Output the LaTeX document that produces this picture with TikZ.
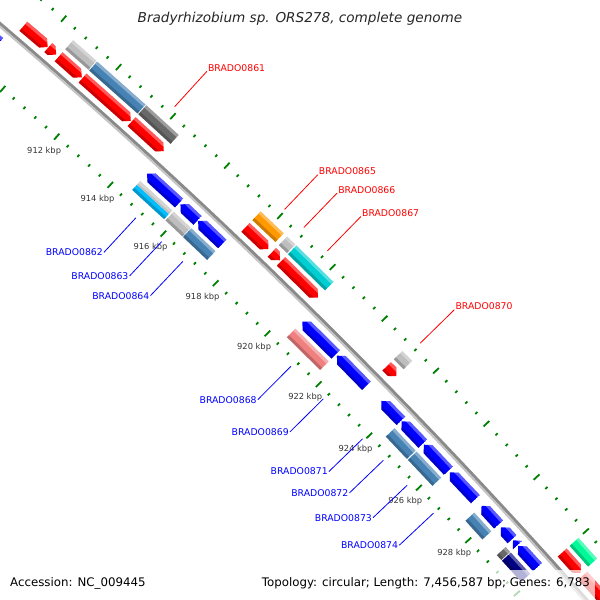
\documentclass[tikz,border=0pt]{standalone}
\usepackage{fontspec}
\setmainfont{DejaVu Sans}
\usetikzlibrary{calc,positioning}
\definecolor{tickgreen}{HTML}{008000}
\definecolor{fwdred}{HTML}{FF0000}
\definecolor{revblue}{HTML}{0000FF}
\definecolor{bbdark}{HTML}{8A8A8A}
\definecolor{bblight}{HTML}{C4C4C4}
\definecolor{cogsteel}{HTML}{4682B4}
\definecolor{cogsilver}{HTML}{BEBEBE}
\definecolor{cogdim}{HTML}{696969}
\definecolor{cogsky}{HTML}{00BFFF}
\definecolor{cogorange}{HTML}{FF9900}
\definecolor{cogturq}{HTML}{00CED1}
\definecolor{cogcoral}{HTML}{F08080}
\definecolor{cognavy}{HTML}{000080}
\definecolor{cogspring}{HTML}{00FA9A}
% point on the map: position in kbp, radius in px
\newcommand{\mappt}[2]{($(ctr)+({45.2-0.35*((#1)-921)}:#2pt)$)}
\newcommand{\mapband}[4]{\mappt{#1}{#3} -- \mappt{#1}{#4} -- \mappt{#2}{#4} -- \mappt{#2}{#3} -- cycle}
\newcommand{\mapbevel}[4]{%
  \pgfmathsetmacro\bvi{#3+3}\pgfmathsetmacro\bvo{#4-3}%
  \fill[white, opacity=.35] \mapband{#1}{#2}{\bvo}{#4};
  \fill[black, opacity=.2] \mapband{#1}{#2}{#3}{\bvi};}
% genes on the outer (clockwise) and inner strand
\newcommand{\fwdgene}[2]{%
  \pgfmathsetmacro\hd{#2-min(0.17,#2-#1)}%
  \begin{scope}
    \clip \mappt{#1}{5955} -- \mappt{#1}{5967} -- \mappt{\hd}{5967} -- \mappt{#2}{5961} -- \mappt{\hd}{5955} -- cycle;
    \fill[fwdred] \mapband{#1}{#2}{5954}{5968};
    \mapbevel{#1}{#2}{5955}{5967}
  \end{scope}}
\newcommand{\revgene}[2]{%
  \pgfmathsetmacro\hd{#1+min(0.17,#2-#1)}%
  \begin{scope}
    \clip \mappt{#2}{5927} -- \mappt{#2}{5939} -- \mappt{\hd}{5939} -- \mappt{#1}{5933} -- \mappt{\hd}{5927} -- cycle;
    \fill[revblue] \mapband{#1}{#2}{5926}{5940};
    \mapbevel{#1}{#2}{5927}{5939}
  \end{scope}}
\newcommand{\cogbox}[4]{%
  \pgfmathsetmacro\cgo{#3+12}%
  \fill[#4] \mapband{#1}{#2}{#3}{\cgo};
  \mapbevel{#1}{#2}{#3}{\cgo}}
% gene labels with radial leaders
\newcommand{\outlbl}[3]{%
  \path \mappt{(#2+#3)/2}{6001} coordinate (g#1);
  \path \mappt{(#2+#3)/2}{6049} node[outlab] (l#1) {BRADO#1};
  \draw[fwdred, leadline] (g#1) -- (l#1.base west);}
\newcommand{\inlbl}[3]{%
  \path \mappt{(#2+#3)/2}{5893} coordinate (g#1);
  \path \mappt{(#2+#3)/2}{5846} node[inlab] (l#1) {BRADO#1};
  \draw[revblue, leadline] (g#1) -- (l#1.east);}

\begin{document}
\begin{tikzpicture}[x=1pt, y=1pt,
  kbptick/.style={draw=tickgreen, line width=1.8pt},
  kbp/.style={font=\fontsize{8.3}{9}\selectfont, text=black!80, inner sep=0pt},
  outlab/.style={font=\fontsize{9.3}{11}\selectfont, text=fwdred, anchor=base west, inner sep=1pt},
  inlab/.style={font=\fontsize{9.3}{11}\selectfont, text=revblue, anchor=east, inner sep=1pt},
  leadline/.style={line width=.8pt},
  footbox/.style={font=\fontsize{11.8}{14}\selectfont, fill=white, fill opacity=.7, text opacity=1,
    inner xsep=5pt, inner ysep=0pt, text height=16.7pt, text depth=13.3pt}]
\useasboundingbox (0,0) rectangle (600,600);
\clip (0,0) rectangle (600,600);
\coordinate (ctr) at (-3864,-3945);

% tick rings
\foreach \i in {0,...,60} {
  \pgfmathsetmacro\k{908+0.4*\i}
  \pgfmathtruncatemacro\mj{mod(\i,5)}
  \ifnum\mj=0
    \draw[kbptick] \mappt{\k}{5896} -- \mappt{\k}{5904};
    \draw[kbptick] \mappt{\k}{5989} -- \mappt{\k}{5997};
  \else
    \draw[kbptick] \mappt{\k}{5898.5} -- \mappt{\k}{5901.5};
    \draw[kbptick] \mappt{\k}{5991.5} -- \mappt{\k}{5994.5};
  \fi}
\foreach \k in {912,914,...,928}
  \path \mappt{\k}{5881} node[kbp] (t\k) {\k\ kbp};

% backbone
\draw[line width=3pt, bbdark] \mappt{906}{5948} arc[start angle={45.2-0.35*(906-921)}, end angle={45.2-0.35*(934-921)}, radius=5948pt];
\draw[line width=2pt, bblight] \mappt{906}{5945.5} arc[start angle={45.2-0.35*(906-921)}, end angle={45.2-0.35*(934-921)}, radius=5945.5pt];

% forward strand
\fwdgene{909.30}{910.18}
\fwdgene{910.20}{910.49}
\fwdgene{910.58}{911.43}
\fwdgene{911.46}{913.23}
\fwdgene{913.26}{914.46}
\fwdgene{917.53}{918.40}
\fwdgene{918.53}{918.84}
\fwdgene{918.88}{920.30}
\fwdgene{922.97}{923.35}
\fwdgene{930.00}{930.76}
\fwdgene{930.85}{932.50}
% reverse strand
\revgene{906.50}{909.09}
\revgene{914.54}{915.74}
\revgene{915.79}{916.44}
\revgene{916.46}{917.38}
\revgene{920.46}{921.75}
\revgene{921.80}{922.96}
\revgene{923.55}{924.32}
\revgene{924.34}{925.19}
\revgene{925.23}{926.22}
\revgene{926.28}{927.30}
\revgene{927.55}{928.25}
\revgene{928.35}{928.80}
\revgene{928.84}{929.02}
\revgene{929.05}{929.84}

% COG categories
\cogbox{910.58}{911.43}{5971}{cogsilver}
\cogbox{911.46}{913.23}{5971}{cogsteel}
\cogbox{913.26}{914.46}{5971}{cogdim}
\cogbox{917.53}{918.40}{5971}{cogorange}
\cogbox{918.53}{918.84}{5971}{cogsilver}
\cogbox{918.88}{920.30}{5971}{cogturq}
\cogbox{922.97}{923.35}{5971}{cogsilver}
\cogbox{930.00}{930.76}{5971}{cogspring}
\fill[cogsky] \mapband{914.54}{915.74}{5911}{5918};
\fill[cogsilver] \mapband{914.54}{915.74}{5918}{5923};
\mapbevel{914.54}{915.74}{5911}{5923}
\cogbox{915.79}{916.44}{5911}{cogsilver}
\cogbox{916.46}{917.38}{5911}{cogsteel}
\cogbox{920.46}{921.75}{5911}{cogcoral}
\cogbox{924.34}{925.19}{5911}{cogsteel}
\cogbox{925.23}{926.22}{5911}{cogsteel}
\cogbox{927.55}{928.25}{5911}{cogsteel}
\cogbox{929.05}{929.84}{5911}{cognavy}
\cogbox{928.84}{929.02}{5911}{cogdim}

% labels
\outlbl{0861}{913.26}{914.46}
\outlbl{0865}{917.53}{918.40}
\outlbl{0866}{918.53}{918.84}
\outlbl{0867}{918.88}{920.30}
\outlbl{0870}{922.97}{923.35}
\inlbl{0862}{914.54}{915.74}
\inlbl{0863}{915.79}{916.44}
\inlbl{0864}{916.46}{917.38}
\inlbl{0868}{920.46}{921.75}
\inlbl{0869}{921.80}{922.96}
\inlbl{0871}{923.55}{924.32}
\inlbl{0872}{924.34}{925.19}
\inlbl{0873}{925.23}{926.22}
\inlbl{0874}{926.28}{927.30}

\node[font=\itshape\fontsize{13.6}{16}\selectfont, text=black!85, anchor=base] (title) at (300,577.5) {Bradyrhizobium sp. ORS278, complete genome};
\node[footbox, anchor=base west] (acc) at (5,13.3) {Accession: NC\_009445};
\node[footbox, anchor=base east] (topo) at (595,13.3) {Topology: circular; Length: 7,456,587 bp; Genes: 6,783};
\end{tikzpicture}
\end{document}
